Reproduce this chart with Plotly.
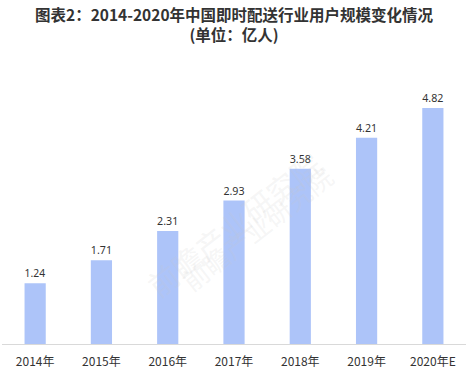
import plotly.graph_objects as go

categories = ["2014年", "2015年", "2016年", "2017年", "2018年", "2019年", "2020年E"]
values = [1.24, 1.71, 2.31, 2.93, 3.58, 4.21, 4.82]
labels = ["1.24", "1.71", "2.31", "2.93", "3.58", "4.21", "4.82"]
title_line1 = "图表2：2014-2020年中国即时配送行业用户规模变化情况"
title_line2 = "(单位：亿人)"

fig = go.Figure()
fig.add_trace(go.Bar(
    x=categories, y=values, text=labels, textposition="outside",
    textfont=dict(size=11, color="#333333", family="Noto Sans, sans-serif"),
    marker=dict(color="#adc4f9", line=dict(width=0)),
    cliponaxis=False, width=0.32,
))

fig.update_layout(
    width=471, height=369,
    margin=dict(l=2, r=5, t=60, b=25),
    paper_bgcolor="white", plot_bgcolor="white",
    showlegend=False,
    xaxis=dict(
        showline=True, linecolor="#d9d9d9", linewidth=1,
        ticks="outside", ticklen=7, tickcolor="rgba(0,0,0,0)", showgrid=False,
        automargin=False,
        tickfont=dict(size=12, color="#333333", family="Noto Sans CJK SC, sans-serif"),
    ),
    yaxis=dict(range=[0, 5.8], visible=False, showgrid=False, automargin=False),
)

fig.add_annotation(
    text="<b>" + title_line1 + "<br>" + title_line2 + "</b>",
    xref="paper", yref="paper", x=0.5, y=1 + (60 - 24) / 284,
    xanchor="center", yanchor="middle", showarrow=False, align="center",
    font=dict(size=15.5, color="#333333", family="Noto Sans CJK SC, sans-serif"),
)

for (xp, yp, ang, sz) in [(0.5, 0.72, -38, 30), (0.55, 0.15, -38, 26)]:
    fig.add_annotation(
        text="前瞻产业研究院", xref="paper", yref="paper", x=xp, y=yp,
        showarrow=False, textangle=ang,
        font=dict(size=sz, color="rgba(200,200,200,0.18)", family="Noto Sans CJK SC, sans-serif"),
    )

fig.write_html("out.html", config={"displayModeBar": False},
               post_script="document.body.style.margin='0';")
